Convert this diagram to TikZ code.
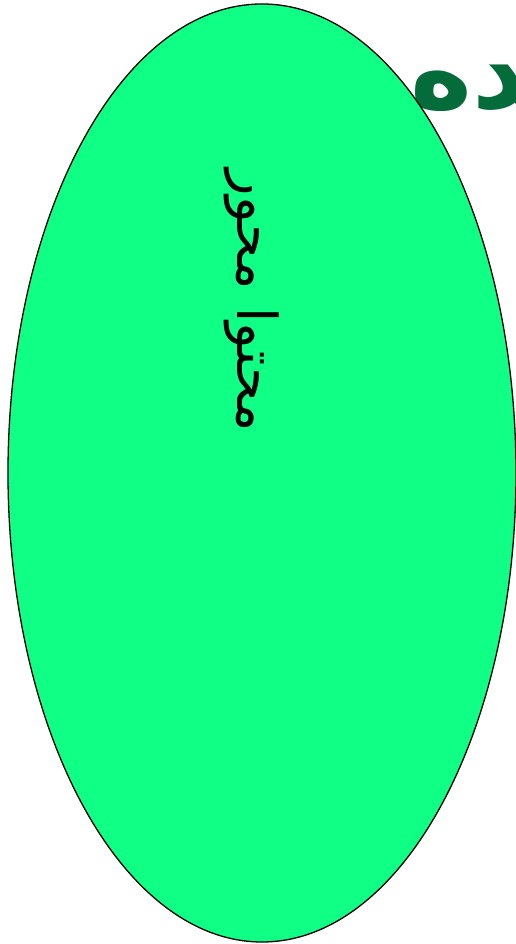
\documentclass[tikz,border=0pt]{standalone}
\usepackage{fontspec}
\usetikzlibrary{shapes.geometric}
\newfontfamily\arabicfont[Script=Arabic]{DejaVu Sans}
\TeXXeTstate=1
\definecolor{spring}{HTML}{10FF85}
\definecolor{forest}{HTML}{046B3B}

\begin{document}
\begin{tikzpicture}[x=1pt,y=1pt]
  \useasboundingbox (0,0) rectangle (516,944);
  \clip (0,0) rectangle (516,944);
  \node[text=forest,font=\arabicfont\bfseries\fontsize{105}{115}\selectfont,anchor=west,inner sep=0pt] (title) at (410,856) {\beginR ـده\endR};
  \node[ellipse,draw=black,line width=1.3pt,fill=spring,minimum width=508pt,minimum height=938pt,inner sep=0pt] (content) at (262,471) {};
  \node[rotate=-90,font=\arabicfont\fontsize{55}{60}\selectfont] (label) at (252,643) {\beginR محتوا محور\endR};
\end{tikzpicture}
\end{document}
